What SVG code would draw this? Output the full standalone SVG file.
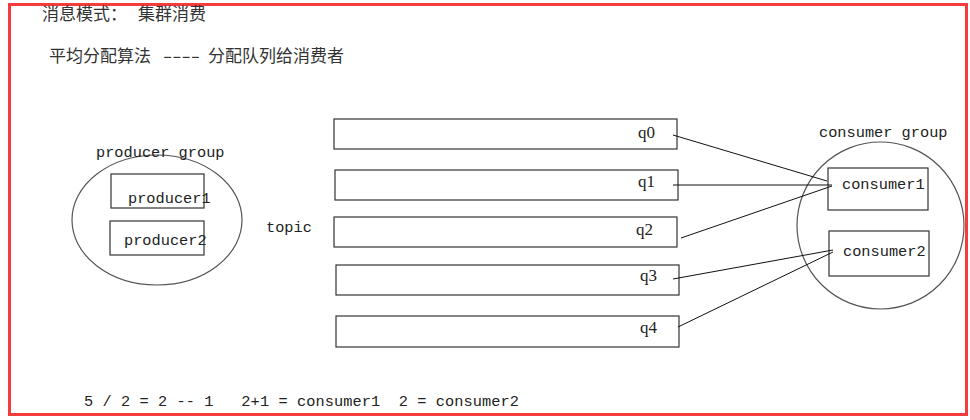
<svg xmlns="http://www.w3.org/2000/svg" width="970" height="420" viewBox="0 0 970 420">
<style>
.cjk{font-family:"Noto Sans CJK SC","Noto Sans CJK JP",sans-serif;font-size:17px;fill:#333}
.mono{font-family:"Liberation Mono","DejaVu Sans Mono",monospace;font-size:15.3px;fill:#222}
.ser{font-family:"Liberation Serif","DejaVu Serif",serif;font-size:17px;fill:#222}
.box{fill:#fff;stroke:#333;stroke-width:1.2}
.grp{fill:none;stroke:#555;stroke-width:1.2}
.ln{stroke:#111;stroke-width:1;fill:none}
</style>
<rect x="0" y="0" width="970" height="420" fill="#fff"/>
<rect x="9.5" y="4.5" width="957" height="410" fill="none" stroke="#f53b3b" stroke-width="3"/>
<g id="title">
<text class="cjk" y="20"><tspan x="42">消息模式：</tspan><tspan x="138">集群消费</tspan></text>
<text class="cjk" y="62"><tspan x="49">平均分配算法</tspan><tspan x="163" textLength="37" lengthAdjust="spacingAndGlyphs">----</tspan><tspan x="208">分配队列给消费者</tspan></text>
</g>
<g id="producer-group">
<ellipse class="grp" cx="157" cy="220" rx="85" ry="65"/>
<text class="mono" x="96" y="157">producer group</text>
</g>
<g id="producer1">
<rect class="box" x="111" y="174" width="93" height="34"/>
<text class="mono" x="128" y="203">producer1</text>
</g>
<g id="producer2">
<rect class="box" x="110" y="221" width="94" height="34"/>
<text class="mono" x="124" y="245">producer2</text>
</g>
<g id="topic">
<text class="mono" x="266" y="232">topic</text>
</g>
<g id="q0">
<rect class="box" x="334" y="119" width="343" height="30"/>
<text class="ser" x="638" y="138">q0</text>
</g>
<g id="q1">
<rect class="box" x="335" y="170" width="343" height="30"/>
<text class="ser" x="638" y="187">q1</text>
</g>
<g id="q2">
<rect class="box" x="334" y="217" width="343" height="30"/>
<text class="ser" x="636" y="235">q2</text>
</g>
<g id="q3">
<rect class="box" x="336" y="265" width="343" height="30"/>
<text class="ser" x="640" y="281">q3</text>
</g>
<g id="q4">
<rect class="box" x="336" y="316" width="343" height="31"/>
<text class="ser" x="640" y="333">q4</text>
</g>
<g id="consumer-group">
<ellipse class="grp" cx="880.5" cy="225.5" rx="83.5" ry="83.5"/>
<text class="mono" x="819" y="137">consumer group</text>
</g>
<g id="consumer1">
<rect class="box" x="828" y="168" width="100" height="42"/>
<text class="mono" x="842" y="189">consumer1</text>
</g>
<g id="consumer2">
<rect class="box" x="829" y="231" width="100" height="45"/>
<text class="mono" x="843" y="256">consumer2</text>
</g>
<g id="connectors">
<line class="ln" x1="673" y1="135" x2="827" y2="181"/>
<line class="ln" x1="673" y1="185" x2="832" y2="185"/>
<line class="ln" x1="681" y1="238" x2="832" y2="186"/>
<line class="ln" x1="673" y1="279" x2="833" y2="250"/>
<line class="ln" x1="678" y1="327" x2="833" y2="252"/>
</g>
<g id="formula">
<text class="mono" x="84" y="406" xml:space="preserve" textLength="435">5 / 2 = 2 -- 1   2+1 = consumer1  2 = consumer2</text>
</g>
</svg>
